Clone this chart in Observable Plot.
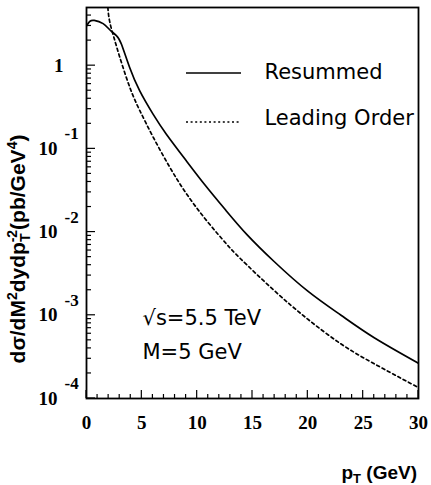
<!DOCTYPE html>
<html>
<head>
<meta charset="utf-8">
<script src="https://cdn.jsdelivr.net/npm/d3@7"></script>
<script src="https://cdn.jsdelivr.net/npm/@observablehq/plot@0.6"></script>
<style>
  html, body { margin: 0; padding: 0; background: white; }
</style>
</head>
<body>
<div id="chart"></div>
<script>
// ---- data ----
const ptResummed = [0, 0.3, 0.7, 1.5, 2.1, 2.7, 3.15, 3.9, 4.8, 6.0, 7.2, 9.0, 10.8, 12.6, 14.5, 17.0, 20.0, 23.0, 26.0, 30.0];
const resummed   = [3.0, 3.4, 3.5, 3.2, 2.7, 2.3, 1.82, 0.95, 0.50, 0.263, 0.151, 0.0724, 0.0355, 0.0182, 0.00933, 0.00437, 0.00195, 0.00100, 0.000537, 0.000265];

const ptLO = [1.93, 2.11, 2.56, 3.01, 3.91, 4.82, 6.03, 7.53, 9.04, 10.84, 12.65, 13.92, 16.93, 19.94, 22.95, 25.96, 30.0];
const leadingOrder = [5.0, 3.31, 2.0, 1.26, 0.55, 0.288, 0.138, 0.060, 0.0288, 0.0138, 0.0072, 0.00478, 0.0020, 0.00091, 0.000457, 0.000263, 0.000135];

const xMajor = [0, 5, 10, 15, 20, 25, 30];
const xTickLabels = ["0", "5", "10", "15", "20", "25", "30"];
const xMinor = [1,2,3,4,6,7,8,9,11,12,13,14,16,17,18,19,21,22,23,24,26,27,28,29];

const yDecades = [1e-4, 1e-3, 1e-2, 1e-1];
const yExponents = ["-4", "-3", "-2", "-1"];
const yMajor = [1e-4, 1e-3, 1e-2, 1e-1, 1];
const yMinor = [
  2e-4,3e-4,4e-4,5e-4,6e-4,7e-4,8e-4,9e-4,
  2e-3,3e-3,4e-3,5e-3,6e-3,7e-3,8e-3,9e-3,
  2e-2,3e-2,4e-2,5e-2,6e-2,7e-2,8e-2,9e-2,
  2e-1,3e-1,4e-1,5e-1,6e-1,7e-1,8e-1,9e-1,
  2,3,4
];

const seriesNames = ["Resummed", "Leading Order"];
const annotations = ["\u221As=5.5 TeV", "M=5 GeV"];

const resData = ptResummed.map((p, i) => ({pt: p, v: resummed[i]}));
const loData = ptLO.map((p, i) => ({pt: p, v: leadingOrder[i]}));

const serif = "'Liberation Serif', 'Times New Roman', serif";
const sans = "'Liberation Sans', Arial, sans-serif";
const roundSans = "'DejaVu Sans', sans-serif";

const W = 431, H = 485, mL = 86, mR = 13, mT = 7, mB = 87;

const plot = Plot.plot({
  width: W,
  height: H,
  marginLeft: mL,
  marginRight: mR,
  marginTop: mT,
  marginBottom: mB,
  style: {background: "white", color: "black"},
  x: {domain: [0, 30], axis: null},
  y: {type: "log", domain: [1e-4, 5], axis: null},
  marks: [
    // x tick labels
    Plot.text(xMajor, {x: d => d, frameAnchor: "bottom", dy: 24, text: (d, i) => xTickLabels[i],
      fontFamily: serif, fontWeight: "bold", fontSize: 19, lineAnchor: "middle"}),
    // y tick labels: 10 with exponent
    Plot.text(yDecades, {y: d => d, frameAnchor: "left", dx: -29, text: () => "10", textAnchor: "end",
      fontFamily: serif, fontWeight: "bold", fontSize: 19, lineAnchor: "middle"}),
    Plot.text(yDecades, {y: d => d, frameAnchor: "left", dx: -22, dy: -15, text: (d, i) => yExponents[i], textAnchor: "start",
      fontFamily: serif, fontWeight: "bold", fontSize: 17, lineAnchor: "middle"}),
    Plot.text([1], {y: d => d, frameAnchor: "left", dx: -23, text: () => "1", textAnchor: "end",
      fontFamily: serif, fontWeight: "bold", fontSize: 19, lineAnchor: "middle"}),
    // curves
    Plot.line(resData, {x: "pt", y: "v", stroke: "black", strokeWidth: 1.7, curve: "natural", clip: true}),
    Plot.line(loData, {x: "pt", y: "v", stroke: "black", strokeWidth: 1.7, strokeDasharray: "3,3", curve: "natural", clip: true}),
    // legend texts
    Plot.text([seriesNames[0]], {frameAnchor: "top-left", dx: 178, dy: 65, text: d => d, textAnchor: "start",
      fontFamily: roundSans, fontSize: 21, lineAnchor: "middle", letterSpacing: "1.2px"}),
    Plot.text([seriesNames[1]], {frameAnchor: "top-left", dx: 178, dy: 111, text: d => d, textAnchor: "start",
      fontFamily: roundSans, fontSize: 21, lineAnchor: "middle", letterSpacing: "1px"}),
    // annotations
    Plot.text([annotations[0]], {frameAnchor: "top-left", dx: 56, dy: 311, text: d => d, textAnchor: "start",
      fontFamily: roundSans, fontSize: 21, lineAnchor: "middle", letterSpacing: "1.8px"}),
    Plot.text([annotations[1]], {frameAnchor: "top-left", dx: 56, dy: 345, text: d => d, textAnchor: "start",
      fontFamily: roundSans, fontSize: 21, lineAnchor: "middle", letterSpacing: "1px"}),
    Plot.frame({stroke: "black", strokeWidth: 1.8})
  ]
});

const svg = d3.select(plot);
const xs = plot.scale("x"), ys = plot.scale("y");
const x0 = mL, yBottom = H - mB;

// inward ticks placed through the plot's own scales
const tickG = svg.append("g").attr("stroke", "black").attr("stroke-width", 1.2);
function xTick(v, len) {
  const px = xs.apply(v);
  tickG.append("line").attr("x1", px).attr("x2", px).attr("y1", yBottom).attr("y2", yBottom - len);
}
function yTick(v, len) {
  const py = ys.apply(v);
  tickG.append("line").attr("x1", x0).attr("x2", x0 + len).attr("y1", py).attr("y2", py);
}
xMinor.forEach(v => xTick(v, 4));
xMajor.forEach(v => xTick(v, 8));
yMinor.forEach(v => yTick(v, 5));
yMajor.forEach(v => yTick(v, 9));

// legend samples
svg.append("line").attr("x1", 186).attr("x2", 241).attr("y1", 73).attr("y2", 73)
  .attr("stroke", "black").attr("stroke-width", 1.7);
svg.append("line").attr("x1", 186).attr("x2", 241).attr("y1", 122).attr("y2", 122)
  .attr("stroke", "black").attr("stroke-width", 1.6).attr("stroke-dasharray", "2,2.6");

// y axis title (rotated)
const yt = svg.append("text")
  .attr("transform", "translate(25,249) rotate(-90)")
  .attr("font-family", sans).attr("font-weight", "bold").attr("font-size", 21).attr("fill", "black");
yt.append("tspan").text("d\u03C3/dM");
yt.append("tspan").attr("font-size", 14).attr("dy", -8).text("2");
yt.append("tspan").attr("dy", 8).text("dydp");
yt.append("tspan").attr("font-size", 14).attr("dy", 5).text("T");
yt.append("tspan").attr("font-size", 14).attr("dy", -13).attr("dx", -8).text("-2");
yt.append("tspan").attr("dy", 8).text("(pb/GeV");
yt.append("tspan").attr("font-size", 14).attr("dy", -8).text("4");
yt.append("tspan").attr("dy", 8).text(")");

// x axis title
const xt = svg.append("text")
  .attr("x", 417).attr("y", 479).attr("text-anchor", "end")
  .attr("font-family", sans).attr("font-weight", "bold").attr("font-size", 19).attr("fill", "black");
xt.append("tspan").text("p");
xt.append("tspan").attr("font-size", 13).attr("dy", 4).text("T");
xt.append("tspan").attr("dy", -4).text(" (GeV)");

document.getElementById("chart").appendChild(plot);
</script>
</body>
</html>
